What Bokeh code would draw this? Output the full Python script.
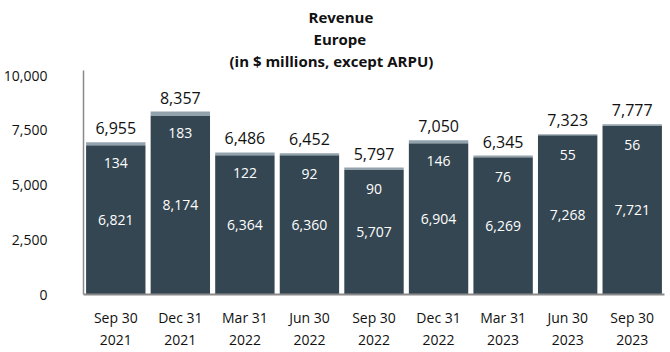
from bokeh.plotting import figure
from bokeh.models import ColumnDataSource, LabelSet, Title, Range1d, FactorRange, NumeralTickFormatter, FixedTicker
from bokeh.core.properties import value
from bokeh.embed import file_html
from bokeh.resources import INLINE

quarters = ["Sep 30\n2021", "Dec 31\n2021", "Mar 31\n2022", "Jun 30\n2022", "Sep 30\n2022",
            "Dec 31\n2022", "Mar 31\n2023", "Jun 30\n2023", "Sep 30\n2023"]
base_values = [6821, 8174, 6364, 6360, 5707, 6904, 6269, 7268, 7721]
top_values = [134, 183, 122, 92, 90, 146, 76, 55, 56]
totals = [6955, 8357, 6486, 6452, 5797, 7050, 6345, 7323, 7777]
y_ticks = [0, 2500, 5000, 7500, 10000]
title_lines = ["Revenue", "Europe", "(in $ millions, except ARPU)"]
title_offsets = [225, 230, 146]

DARK = "#344651"
LIGHT = "#93A3AE"
FONT = "Open Sans"

src = ColumnDataSource(dict(
    q=quarters,
    base=base_values,
    top=top_values,
    total=totals,
    base_mid=[b / 2 for b in base_values],
    base_lbl=[f"{v:,}" for v in base_values],
    top_lbl=[f"{v:,}" for v in top_values],
    total_lbl=[f"{v:,}" for v in totals],
))

p = figure(width=670, height=352, x_range=FactorRange(*quarters), y_range=Range1d(0, 10230),
           output_backend="svg", toolbar_location=None,
           min_border_left=80, min_border_right=6, min_border_top=70, min_border_bottom=56)

p.vbar_stack(["base", "top"], x="q", width=0.92, color=[DARK, LIGHT], source=src, line_color=None)

p.add_layout(LabelSet(x="q", y="base_mid", text="base_lbl", source=src, text_align="center",
                      text_baseline="middle", text_color="white", text_font=value(FONT),
                      text_font_size="14px"))
p.add_layout(LabelSet(x="q", y="total", text="top_lbl", source=src, text_align="center",
                      text_baseline="middle", y_offset=-21, text_color="white", text_font=value(FONT),
                      text_font_size="14px"))
p.add_layout(LabelSet(x="q", y="total", text="total_lbl", source=src, text_align="center",
                      text_baseline="bottom", y_offset=8, text_color="#111111", text_font=value(FONT),
                      text_font_size="16px"))

# stacked above the frame: last added sits highest
for t, off in reversed(list(zip(title_lines, title_offsets))):
    p.add_layout(Title(text=t, align="left", offset=off, standoff=0, text_font=FONT,
                       text_font_style="bold", text_font_size="15px", text_color="#111111"), "above")

p.xgrid.visible = False
p.ygrid.visible = False
p.outline_line_color = None

p.yaxis.ticker = FixedTicker(ticks=y_ticks)
p.yaxis.formatter = NumeralTickFormatter(format="0,0")
p.yaxis.major_tick_line_color = None
p.yaxis.minor_tick_line_color = None
p.yaxis.major_label_standoff = 30
p.yaxis.axis_line_color = "#8a8a8a"
p.yaxis.axis_line_width = 1.5
p.yaxis.major_label_text_font = FONT
p.yaxis.major_label_text_font_size = "14px"
p.yaxis.major_label_text_color = "#111111"

p.xaxis.major_tick_line_color = None
p.xaxis.minor_tick_line_color = None
p.xaxis.axis_line_color = "#8a8a8a"
p.xaxis.axis_line_width = 2
p.xaxis.major_label_standoff = 7
p.xaxis.major_label_text_font = FONT
p.xaxis.major_label_text_font_size = "14px"
p.xaxis.major_label_text_color = "#111111"

open("out.html", "w").write(file_html(p, INLINE))
